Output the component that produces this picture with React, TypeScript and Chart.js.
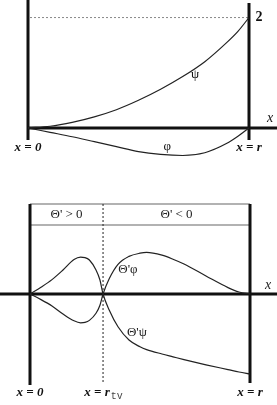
import React, { useEffect, useRef } from "react";
import { Chart, registerables } from "chart.js";

Chart.register(...registerables);

// ---------- Data ----------
// Top panel: x from 0 (x = 0) to 1 (x = r)
const topX = [0, 0.1, 0.2, 0.3, 0.4, 0.5, 0.6, 0.7, 0.8, 0.9, 0.95, 1];
const psiValues = [0, 0.03, 0.1, 0.2, 0.33, 0.5, 0.7, 0.93, 1.2, 1.55, 1.75, 2.0];
const phiValues = [0, -0.08, -0.16, -0.25, -0.34, -0.43, -0.48, -0.5, -0.45, -0.28, -0.15, 0];

// Bottom panel
const rTv = 0.332;
const bottomX = [0, 0.05, 0.1, 0.15, 0.2, 0.23, 0.25, 0.27, 0.3, 0.318, 0.332, 0.36, 0.4, 0.45, 0.5, 0.53, 0.6, 0.65, 0.7, 0.8, 0.9, 0.95, 1];
const thetaPsiValues = [0, 0.17, 0.36, 0.6, 0.86, 0.92, 0.91, 0.85, 0.6, 0.35, 0, -0.4, -0.82, -1.15, -1.32, -1.39, -1.5, -1.57, -1.64, -1.77, -1.89, -1.95, -2.0];
const thetaPhiValues = [0, -0.14, -0.3, -0.5, -0.67, -0.72, -0.71, -0.66, -0.48, -0.28, 0, 0.38, 0.74, 0.94, 1.02, 1.04, 0.97, 0.87, 0.75, 0.45, 0.16, 0.05, 0];

const regionLabels = ["\u0398' > 0", "\u0398' < 0"];

const SERIF = `"Liberation Serif", "Times New Roman", serif`;

function pts(xs: number[], ys: number[]) {
  return xs.map((x, i) => ({ x, y: ys[i] }));
}

function lineDs(data: { x: number; y: number }[]) {
  return {
    data,
    borderColor: "#222",
    borderWidth: 1.2,
    pointRadius: 0,
    fill: false,
    cubicInterpolationMode: "monotone" as const,
  };
}

function drawBoldLabel(ctx: CanvasRenderingContext2D, x: number, y: number, main: string, sub?: string) {
  ctx.save();
  ctx.font = `italic bold 13px ${SERIF}`;
  const w1 = ctx.measureText(main).width;
  let w2 = 0;
  if (sub) {
    ctx.font = `10px "Liberation Mono", monospace`;
    w2 = ctx.measureText(sub).width;
  }
  const start = x - (w1 + w2) / 2;
  ctx.fillStyle = "#111";
  ctx.textBaseline = "middle";
  ctx.textAlign = "left";
  ctx.font = `italic bold 13px ${SERIF}`;
  ctx.fillText(main, start, y);
  if (sub) {
    ctx.font = `10px "Liberation Mono", monospace`;
    ctx.fillStyle = "#444";
    ctx.fillText(sub, start + w1 + 1, y + 3);
  }
  ctx.restore();
}

const topPlugin = {
  id: "topDecor",
  beforeDatasetsDraw(chart: any) {
    const { ctx, scales } = chart;
    const xs = scales.x, ys = scales.y;
    const x0 = xs.getPixelForValue(0);
    const x1 = xs.getPixelForValue(1);
    const y0 = ys.getPixelForValue(0);
    const y2 = ys.getPixelForValue(2);
    ctx.save();
    ctx.strokeStyle = "#888";
    ctx.lineWidth = 1;
    ctx.setLineDash([2, 2]);
    ctx.beginPath();
    ctx.moveTo(x0 + 2, y2);
    ctx.lineTo(x1, y2);
    ctx.stroke();
    ctx.setLineDash([]);
    ctx.strokeStyle = "#111";
    ctx.lineWidth = 3;
    ctx.beginPath();
    ctx.moveTo(x0, 0);
    ctx.lineTo(x0, y0 + 12);
    ctx.moveTo(x1, 3);
    ctx.lineTo(x1, y0 + 12);
    ctx.moveTo(x0 - 1, y0);
    ctx.lineTo(chart.width, y0);
    ctx.stroke();
    ctx.restore();
  },
  afterDatasetsDraw(chart: any) {
    const { ctx, scales } = chart;
    const xs = scales.x, ys = scales.y;
    const x0 = xs.getPixelForValue(0);
    const x1 = xs.getPixelForValue(1);
    const y0 = ys.getPixelForValue(0);
    const y2 = ys.getPixelForValue(2);
    ctx.save();
    ctx.fillStyle = "#111";
    ctx.textBaseline = "middle";
    ctx.textAlign = "center";
    ctx.font = `bold 14px ${SERIF}`;
    ctx.fillText("2", x1 + 10, y2);
    ctx.font = `italic 14px ${SERIF}`;
    ctx.fillText("x", chart.width - 7, y0 - 10);
    ctx.font = `13px ${SERIF}`;
    ctx.fillText("\u03C8", xs.getPixelForValue(0.756), ys.getPixelForValue(0.96));
    ctx.fillText("\u03C6", xs.getPixelForValue(0.63), ys.getPixelForValue(-0.34));
    ctx.restore();
    drawBoldLabel(ctx, x0, y0 + 20, "x = 0");
    drawBoldLabel(ctx, x1, y0 + 20, "x = r");
  },
};

const bottomPlugin = {
  id: "bottomDecor",
  beforeDatasetsDraw(chart: any) {
    const { ctx, scales, chartArea } = chart;
    const xs = scales.x, ys = scales.y;
    const x0 = xs.getPixelForValue(0);
    const x1 = xs.getPixelForValue(1);
    const xt = xs.getPixelForValue(rTv);
    const y0 = ys.getPixelForValue(0);
    const top = chartArea.top;
    const bottom = chartArea.bottom;
    ctx.save();
    ctx.strokeStyle = "#999";
    ctx.lineWidth = 1.5;
    ctx.beginPath();
    ctx.moveTo(x0, top);
    ctx.lineTo(x1, top);
    ctx.moveTo(x0, top + 21);
    ctx.lineTo(x1, top + 21);
    ctx.stroke();
    ctx.strokeStyle = "#222";
    ctx.lineWidth = 1;
    ctx.setLineDash([2, 2]);
    ctx.beginPath();
    ctx.moveTo(xt, top);
    ctx.lineTo(xt, bottom - 2);
    ctx.stroke();
    ctx.setLineDash([]);
    ctx.strokeStyle = "#111";
    ctx.lineWidth = 3;
    ctx.beginPath();
    ctx.moveTo(x0, top);
    ctx.lineTo(x0, bottom);
    ctx.moveTo(x1, top);
    ctx.lineTo(x1, bottom - 2);
    ctx.moveTo(0, y0);
    ctx.lineTo(chart.width, y0);
    ctx.stroke();
    ctx.fillStyle = "#222";
    ctx.font = `13px ${SERIF}`;
    ctx.textAlign = "center";
    ctx.textBaseline = "middle";
    ctx.fillText(regionLabels[0], (x0 + xt) / 2, top + 11);
    ctx.fillText(regionLabels[1], (xt + x1) / 2, top + 11);
    ctx.restore();
  },
  afterDatasetsDraw(chart: any) {
    const { ctx, scales, chartArea } = chart;
    const xs = scales.x, ys = scales.y;
    const x0 = xs.getPixelForValue(0);
    const x1 = xs.getPixelForValue(1);
    const xt = xs.getPixelForValue(rTv);
    const y0 = ys.getPixelForValue(0);
    ctx.save();
    ctx.fillStyle = "#222";
    ctx.textBaseline = "middle";
    ctx.textAlign = "center";
    ctx.font = `italic 14px ${SERIF}`;
    ctx.fillText("x", chart.width - 9, y0 - 9);
    ctx.font = `13px ${SERIF}`;
    ctx.fillText("\u0398'\u03C6", xs.getPixelForValue(0.445), ys.getPixelForValue(0.6));
    ctx.fillText("\u0398'\u03C8", xs.getPixelForValue(0.486), ys.getPixelForValue(-0.975));
    ctx.restore();
    const ly = chartArea.bottom + 8;
    drawBoldLabel(ctx, x0, ly, "x = 0");
    drawBoldLabel(ctx, xt, ly, "x = r", "tv");
    drawBoldLabel(ctx, x1, ly, "x = r");
  },
};

function baseOptions(pad: any, ymin: number, ymax: number) {
  return {
    animation: false as const,
    responsive: false,
    maintainAspectRatio: false,
    layout: { padding: pad },
    plugins: { legend: { display: false }, tooltip: { enabled: false } },
    scales: {
      x: { type: "linear" as const, min: 0, max: 1, display: false },
      y: { type: "linear" as const, min: ymin, max: ymax, display: false },
    },
  };
}

export default function App() {
  const topRef = useRef<HTMLCanvasElement>(null);
  const botRef = useRef<HTMLCanvasElement>(null);

  useEffect(() => {
    const c1 = new Chart(topRef.current!, {
      type: "line",
      data: {
        datasets: [lineDs(pts(topX, psiValues)), lineDs(pts(topX, phiValues))],
      },
      options: baseOptions({ left: 28, right: 28, top: 1, bottom: 9 }, -0.6, 2.3) as any,
      plugins: [topPlugin],
    });
    const c2 = new Chart(botRef.current!, {
      type: "line",
      data: {
        datasets: [lineDs(pts(bottomX, thetaPsiValues)), lineDs(pts(bottomX, thetaPhiValues))],
      },
      options: baseOptions({ left: 30, right: 27, top: 34, bottom: 20 }, -2.275, 2.25) as any,
      plugins: [bottomPlugin],
    });
    return () => {
      c1.destroy();
      c2.destroy();
    };
  }, []);

  return (
    <div style={{ position: "absolute", left: 0, top: 0, width: 277, height: 405, background: "#fff" }}>
      <canvas ref={topRef} width={277} height={170} style={{ display: "block", width: 277, height: 170 }} />
      <canvas ref={botRef} width={277} height={235} style={{ display: "block", width: 277, height: 235 }} />
    </div>
  );
}
